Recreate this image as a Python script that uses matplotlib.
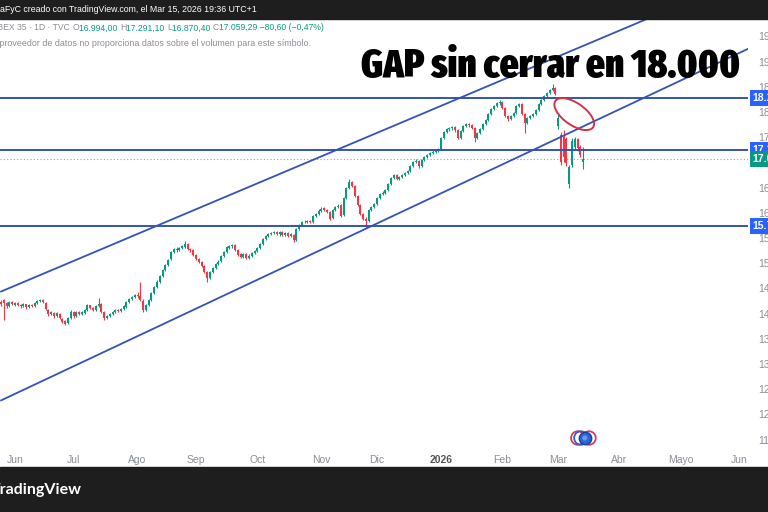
import matplotlib
matplotlib.use("Agg")
from matplotlib import pyplot as plt
from matplotlib import font_manager
from matplotlib.font_manager import FontProperties
from matplotlib.patches import Rectangle, Ellipse
from matplotlib.transforms import IdentityTransform, blended_transform_factory
from matplotlib.ticker import FuncFormatter
import numpy as np
import pandas as pd

# IBEX 35, daily candles from 26 May 2025 to 13 Mar 2026
START = "2025-05-26"
CAL_END = "2026-06-30"

opens = [
    14230, 14260, 14200, 14150, 14220, 14170, 14210, 14170, 14140, 14180,
    14120, 14170, 14140, 14200, 14240, 14260, 14210, 14070, 13980, 14010,
    13950, 13990, 13890, 13840, 13800, 13910, 14020, 13950, 14020, 13980,
    14010, 14060, 14160, 14100, 14070, 14140, 14190, 14020, 13900, 13940,
    13990, 14020, 14070, 14040, 14080, 14130, 14220, 14280, 14320, 14370,
    14350, 14250, 14070, 14160, 14260, 14400, 14520, 14620, 14740, 14860,
    14960, 15070, 15210, 15280, 15250, 15290, 15320, 15370, 15270, 15250,
    15160, 15070, 15020, 14930, 14810, 14700, 14820, 14900, 14980, 15030,
    15140, 15210, 15300, 15330, 15350, 15250, 15170, 15120, 15180, 15100,
    15140, 15190, 15230, 15290, 15370, 15470, 15530, 15570, 15590, 15610,
    15570, 15610, 15550, 15590, 15530, 15560, 15450, 15670, 15750, 15800,
    15810, 15830, 15810, 15930, 15970, 16030, 16080, 16050, 16010, 15880,
    16050, 16110, 16140, 15940, 16290, 16480, 16600, 16520, 16330, 16150,
    15970, 15870, 15830, 16050, 16110, 16170, 16290, 16370, 16390, 16440,
    16560, 16680, 16740, 16660, 16700, 16740, 16780, 16820, 16920, 17000,
    17020, 16920, 17040, 17100, 17140, 17180, 17200, 17220, 17250, 17480,
    17600, 17650, 17670, 17690, 17630, 17480, 17620, 17710, 17750, 17730,
    17670, 17480, 17580, 17650, 17750, 17830, 17950, 18050, 18110, 18170,
    18190, 18070, 17910, 17850, 17910, 17970, 18110, 18150, 17950, 17770,
    17870, 17910, 17950, 18030, 18150, 18230, 18310, 18370, 18430, 18470,
    17720, 17540, 17500, 17450, 16560, 16950, 17300, 17450, 17300, 16994.00,
]
highs = [
    14260, 14280, 14220, 14240, 14250, 14230, 14230, 14190, 14200, 14190,
    14180, 14190, 14220, 14260, 14290, 14280, 14230, 14090, 14050, 14030,
    14030, 14010, 13910, 13860, 13920, 14060, 14040, 14040, 14050, 14040,
    14080, 14180, 14170, 14120, 14160, 14300, 14210, 14040, 13970, 14000,
    14050, 14080, 14090, 14100, 14160, 14240, 14300, 14350, 14380, 14420,
    14620, 14280, 14180, 14280, 14420, 14540, 14650, 14760, 14880, 14980,
    15080, 15230, 15300, 15310, 15320, 15350, 15430, 15390, 15300, 15270,
    15180, 15100, 15040, 14950, 14830, 14840, 14920, 15000, 15050, 15160,
    15230, 15330, 15360, 15380, 15370, 15270, 15190, 15200, 15200, 15170,
    15210, 15250, 15310, 15390, 15490, 15550, 15600, 15620, 15640, 15630,
    15630, 15630, 15610, 15610, 15590, 15580, 15690, 15770, 15830, 15840,
    15850, 15850, 15950, 15990, 16060, 16100, 16100, 16070, 16030, 16070,
    16130, 16170, 16160, 16310, 16500, 16660, 16620, 16540, 16350, 16170,
    15990, 15900, 16070, 16130, 16190, 16310, 16390, 16420, 16460, 16580,
    16700, 16770, 16760, 16720, 16760, 16800, 16840, 16940, 17020, 17050,
    17040, 17060, 17120, 17160, 17200, 17230, 17250, 17270, 17500, 17620,
    17680, 17700, 17720, 17710, 17650, 17640, 17730, 17780, 17770, 17750,
    17690, 17600, 17670, 17770, 17850, 17970, 18070, 18130, 18200, 18230,
    18210, 18090, 17930, 17930, 17990, 18130, 18180, 18170, 17970, 17890,
    17930, 17970, 18050, 18170, 18250, 18330, 18390, 18450, 18550, 18490,
    17950, 17600, 17640, 17500, 16950, 17480, 17500, 17480, 17330, 17291.10,
]
lows = [
    14150, 13870, 14110, 14130, 14160, 14150, 14140, 14110, 14120, 14090,
    14100, 14120, 14130, 14180, 14220, 14200, 14060, 13950, 13960, 13910,
    13930, 13880, 13800, 13760, 13780, 13890, 13900, 13930, 13960, 13960,
    13990, 14040, 14080, 14040, 14050, 14120, 14000, 13870, 13880, 13920,
    13970, 14000, 14020, 14020, 14060, 14110, 14200, 14260, 14300, 14310,
    14240, 14030, 14050, 14140, 14240, 14380, 14500, 14600, 14720, 14840,
    14940, 15050, 15190, 15220, 15230, 15270, 15300, 15250, 15220, 15140,
    15060, 14990, 14910, 14790, 14620, 14680, 14800, 14880, 14950, 15010,
    15120, 15190, 15280, 15300, 15230, 15140, 15090, 15100, 15080, 15080,
    15120, 15170, 15210, 15270, 15350, 15450, 15510, 15550, 15570, 15550,
    15540, 15530, 15530, 15510, 15510, 15420, 15430, 15650, 15730, 15780,
    15790, 15780, 15790, 15910, 15950, 16010, 16020, 15990, 15850, 15860,
    16030, 16090, 15900, 15920, 16270, 16460, 16500, 16310, 16130, 15950,
    15840, 15710, 15810, 16030, 16090, 16150, 16270, 16340, 16370, 16420,
    16540, 16660, 16640, 16640, 16680, 16720, 16760, 16800, 16900, 16970,
    16890, 16900, 17020, 17080, 17120, 17160, 17180, 17200, 17230, 17460,
    17580, 17620, 17640, 17600, 17450, 17460, 17600, 17690, 17700, 17650,
    17400, 17460, 17560, 17630, 17730, 17810, 17930, 18030, 18090, 18140,
    18050, 17890, 17820, 17830, 17890, 17950, 18090, 17930, 17575, 17750,
    17850, 17890, 17930, 18010, 18130, 18210, 18290, 18350, 18410, 18330,
    17650, 16950, 17000, 16930, 16480, 16900, 17250, 17220, 17100, 16870.40,
]
closes = [
    14180, 14200, 14140, 14220, 14180, 14200, 14160, 14140, 14180, 14120,
    14160, 14140, 14200, 14240, 14260, 14220, 14080, 13980, 14020, 13940,
    14000, 13900, 13830, 13790, 13900, 14020, 13940, 14020, 13980, 14020,
    14060, 14160, 14100, 14060, 14140, 14180, 14020, 13900, 13940, 13980,
    14020, 14060, 14040, 14080, 14140, 14220, 14280, 14320, 14360, 14340,
    14260, 14060, 14160, 14260, 14400, 14520, 14620, 14740, 14860, 14960,
    15060, 15210, 15270, 15250, 15290, 15330, 15370, 15270, 15250, 15160,
    15080, 15020, 14940, 14820, 14700, 14820, 14900, 14980, 15020, 15140,
    15210, 15310, 15330, 15350, 15250, 15160, 15120, 15180, 15100, 15140,
    15190, 15230, 15290, 15370, 15470, 15530, 15570, 15590, 15610, 15570,
    15610, 15550, 15590, 15530, 15570, 15450, 15670, 15750, 15810, 15810,
    15830, 15810, 15930, 15970, 16030, 16070, 16050, 16010, 15870, 16050,
    16110, 16130, 15930, 16290, 16480, 16600, 16520, 16330, 16150, 15970,
    15870, 15830, 16050, 16110, 16170, 16290, 16370, 16390, 16440, 16560,
    16680, 16740, 16660, 16700, 16740, 16780, 16820, 16920, 17000, 17020,
    16920, 17040, 17100, 17140, 17180, 17200, 17220, 17240, 17480, 17600,
    17650, 17670, 17690, 17630, 17480, 17620, 17710, 17750, 17730, 17670,
    17480, 17580, 17650, 17750, 17830, 17950, 18050, 18110, 18170, 18190,
    18070, 17910, 17850, 17910, 17970, 18110, 18150, 17950, 17770, 17870,
    17910, 17950, 18030, 18150, 18230, 18310, 18370, 18430, 18470, 18350,
    17880, 16990, 17100, 16980, 16900, 17420, 17450, 17280, 17140, 17059.29,
]

# drawn levels and channel (date, price)
levels = [18270, 17238, 15730]
channel_top = [("2025-05-26", 14430), ("2026-04-15", 19840)]
channel_bottom = [("2025-05-26", 12270), ("2026-06-04", 19240)]
gap_mark = ("2026-03-10", 17950)

month_starts = ["2025-06", "2025-07", "2025-08", "2025-09", "2025-10", "2025-11",
                "2025-12", "2026-01", "2026-02", "2026-03", "2026-04", "2026-05", "2026-06"]
month_labels = ["Jun", "Jul", "Ago", "Sep", "Oct", "Nov", "Dic", "2026",
                "Feb", "Mar", "Abr", "Mayo", "Jun"]

UP = "#089981"
DOWN = "#f23645"
BLUE = "#2962ff"
LINE = "#3452b8"
GREY = "#8a8d96"
UI_FONT = ["Liberation Sans", "DejaVu Sans"]


def es(v):
    s = f"{v:,.2f}"
    return s.replace(",", " ").replace(".", ",").replace(" ", ".")


def headline_font():
    # narrowest heavy face on the system, else a black weight
    weights = {"normal": 400, "regular": 400, "medium": 500, "semibold": 600,
               "demibold": 600, "bold": 700, "extra bold": 800, "heavy": 800,
               "black": 900}
    best = None
    for f in font_manager.fontManager.ttflist:
        key = (f.name + " " + f.fname).lower()
        w = f.weight if isinstance(f.weight, int) else weights.get(str(f.weight).lower(), 400)
        narrow = ("condensed" in key or "narrow" in key
                  or str(f.stretch) not in ("normal", "400", "500"))
        if narrow and w >= 700 and "oblique" not in key and "italic" not in key:
            score = ("extra" in key or "ultra" in key, w)
            if best is None or score > best[0]:
                best = (score, f.fname)
    if best:
        return FontProperties(fname=best[1])
    for f in font_manager.fontManager.ttflist:
        if f.name == "Lato" and str(f.weight) in ("900", "black", "heavy"):
            return FontProperties(fname=f.fname)
    return FontProperties(family="DejaVu Sans", weight="bold")


cal = pd.bdate_range(START, CAL_END)


def pos(d):
    return cal.searchsorted(pd.Timestamp(d))


fig = plt.figure(figsize=(7.68, 5.12), dpi=100)
fig.patch.set_facecolor("white")
ax = fig.add_axes([0, 65 / 512, 748 / 768, 428 / 512])
ax.set_facecolor("white")
for s in ax.spines.values():
    s.set_visible(False)

o = np.array(opens)
h = np.array(highs)
l = np.array(lows)
c = np.array(closes)
x = np.arange(len(c))
col = np.where(c >= o, UP, DOWN)
ax.vlines(x, l, h, colors=col, lw=0.8, zorder=3)
ax.bar(x, np.maximum(np.abs(c - o), 10), bottom=np.minimum(o, c), width=0.72,
       color=col, zorder=3)

for v in levels:
    ax.axhline(v, color=LINE, lw=1.4, zorder=4)
ax.axhline(c[-1], color="#9aa0a6", lw=0.8, ls=(0, (1, 2)), zorder=2)

for pts in (channel_top, channel_bottom):
    ax.plot([pos(pts[0][0]), pos(pts[1][0])], [pts[0][1], pts[1][1]],
            color=LINE, lw=1.3, zorder=4)

ax.set_xlim(-0.4, 268.2)
ax.set_ylim(11345, 19837)

# price scale; grid labels hidden where a value box sits on top of them
boxed = levels + [c[-1]]


def price_label(v, p):
    if min(abs(v - b) for b in boxed) < 160:
        return ""
    return es(v)


ax.yaxis.tick_right()
ax.set_yticks(np.arange(11500, 20000, 500))
ax.yaxis.set_major_formatter(FuncFormatter(price_label))
ax.tick_params(axis="y", length=0, pad=7, labelsize=7.5, labelcolor=GREY)

# time scale
tick_pos = [pos(m + "-01") for m in month_starts]
ax.set_xticks(tick_pos)
ax.set_xticklabels(month_labels)
ax.tick_params(axis="x", length=0, pad=6, labelsize=7.5, labelcolor=GREY)
for t in ax.get_xticklabels() + ax.get_yticklabels():
    t.set_family(UI_FONT)
    if t.get_text() == "2026":
        t.set_fontweight("bold")
        t.set_color("#555555")

# value boxes on the price scale
yb = blended_transform_factory(ax.transAxes, ax.transData)
for v in levels:
    ax.text(1.006, v, es(v), transform=yb, color="white", fontsize=7.5,
            fontweight="bold", va="center", ha="left", zorder=10, family=UI_FONT,
            bbox=dict(boxstyle="square,pad=0.25", fc=BLUE, ec="none"))
ax.text(1.006, c[-1], es(c[-1]), transform=yb, color="white", fontsize=7.5,
        fontweight="bold", va="center", ha="left", zorder=10, family=UI_FONT,
        bbox=dict(boxstyle="square,pad=0.25", fc=UP, ec="none"))

# event markers under the last bars
xb = ax.get_xaxis_transform()
ax.scatter([207.1, 211.1], [0.021, 0.021], s=95, facecolors="none",
           edgecolors="#d0405a", lw=1.3, transform=xb, zorder=6)
ax.scatter([208.2], [0.021], s=95, facecolors="none", edgecolors="#3a60d0",
           lw=1.3, transform=xb, zorder=6)
ax.scatter([209.6], [0.021], s=80, facecolors="#2f62d6", edgecolors="#1d3f9a",
           lw=1.0, transform=xb, zorder=7)
ax.scatter([209.6], [0.021], s=14, facecolors="#6a9af0", edgecolors="none",
           transform=xb, zorder=8)

# ellipse around the open gap
fig.canvas.draw()
cx, cy = ax.transData.transform((pos(gap_mark[0]) - 0.2, gap_mark[1]))
ax.add_patch(Ellipse((cx, cy), 46, 22, angle=-35, transform=IdentityTransform(),
                     fill=False, ec="#d03545", lw=1.4, zorder=9))

# dark frame bars
fig.patches.append(Rectangle((0, 493 / 512), 1, 19 / 512, transform=fig.transFigure,
                             color="#1e1e1e", zorder=0))
fig.patches.append(Rectangle((0, 0), 1, 45 / 512, transform=fig.transFigure,
                             color="#1e1e1e", zorder=0))

fig.text(-0.002, 1 - 10 / 512, "iaFyC creado con TradingView.com, el Mar 15, 2026 19:36 UTC+1",
         color="white", fontsize=6.3, va="center", ha="left", family=UI_FONT)
fig.text(-0.012, 22 / 512, "TradingView", color="white", fontsize=11.5,
         fontweight="bold", va="center", ha="left", family="Lato")

renderer = fig.canvas.get_renderer()


def run_text(x0, y0, parts, **kw):
    for s, colr in parts:
        t = fig.text(x0, y0, s, color=colr, **kw)
        x0 += t.get_window_extent(renderer).width / fig.bbox.width


run_text(-0.006, 1 - 28 / 512, [
    ("IBEX 35 · 1D · TVC ", GREY),
    ("O", GREY), ("16.994,00 ", UP),
    ("H", GREY), ("17.291,10 ", UP),
    ("L", GREY), ("16.870,40 ", UP),
    ("C", GREY), ("17.059,29 −80,60 (−0,47%)", UP),
], fontsize=6.2, va="center", ha="left", family=UI_FONT)
fig.text(-0.014, 1 - 43 / 512,
         "El proveedor de datos no proporciona datos sobre el volumen para este símbolo.",
         color=GREY, fontsize=6.4, va="center", ha="left", family=UI_FONT)

# headline sized to its span over the chart
fp = headline_font()
title = fig.text(740 / 768, 1 - 77 / 512, "GAP sin cerrar en 18.000", color="black",
                 fontproperties=fp, fontsize=40, ha="right", va="baseline", zorder=20)
w = title.get_window_extent(renderer).width
title.set_fontsize(min(40, 40 * 378 / w))

fig.savefig("out.png", dpi=100)
